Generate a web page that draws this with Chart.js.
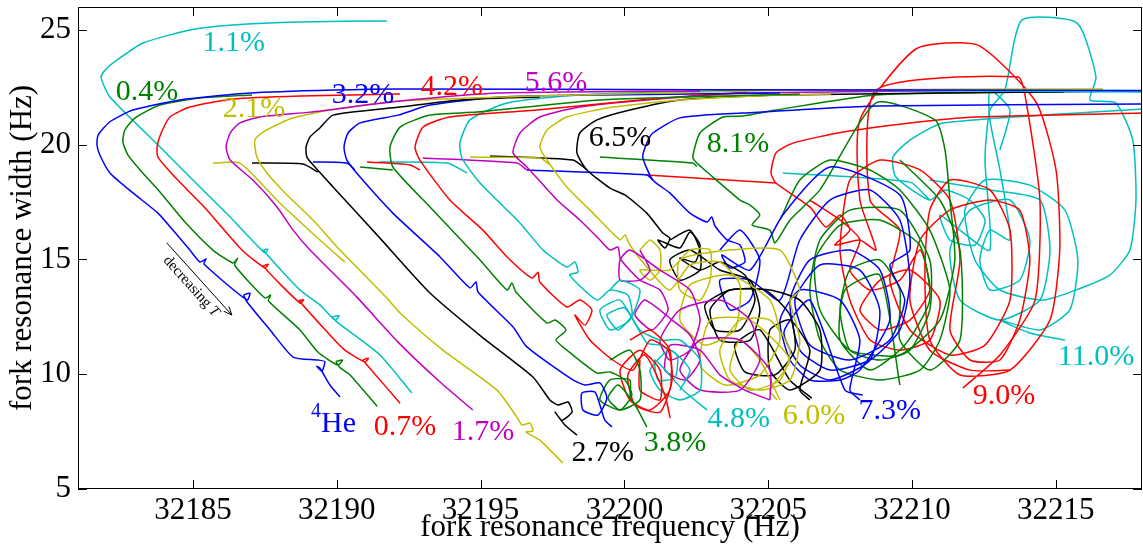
<!DOCTYPE html>
<html lang="en">
<head>
<meta charset="UTF-8">
<title>Fork resonance width vs frequency</title>
<script src="https://cdn.jsdelivr.net/npm/chart.js@4.4.0/dist/chart.umd.min.js"></script>
<style>
  html, body { margin: 0; padding: 0; background: #fff; }
  .chart-box { position: relative; width: 1143px; height: 555px; }
</style>
</head>
<body>
<div class="chart-box"><canvas id="forkChart"></canvas></div>
<script>
// axis ticks
const xTicks = [32185, 32190, 32195, 32200, 32205, 32210, 32215];
const yTicks = [5, 10, 15, 20, 25];

// [frequency (Hz), width (Hz)] traces
const he4 = [[32218.0,22.36],[32202.63,22.40],[32192.20,22.43],[32189.87,22.38],[32186.98,22.25],[32184.55,21.95],[32182.91,21.51],[32182.11,21.0],[32181.70,20.42],[32181.66,20.0],[32181.76,19.55],[32182.11,18.77],[32182.91,17.90],[32183.78,17.02],[32184.30,16.28],[32184.89,15.41],[32185.24,14.89],[32185.45,15.02],[32185.38,14.80],[32186.88,13.23],[32186.98,13.53],[32186.77,13.45],[32186.88,13.15],[32187.68,11.93],[32188.48,10.75],[32189.34,10.62],[32189.58,10.55],[32189.48,10.13],[32189.30,10.35],[32189.41,10.27],[32189.76,9.53],[32190.11,9.01]];
const c04 = [[32187.05,22.17],[32185.24,22.03],[32183.85,21.73],[32182.98,21.16],[32182.63,20.64],[32182.56,20.12],[32182.74,19.55],[32183.16,18.90],[32183.85,17.94],[32184.72,16.63],[32185.69,15.41],[32186.39,14.85],[32186.55,15.05],[32186.45,14.75],[32187.50,13.32],[32187.70,13.45],[32187.62,13.20],[32188.72,11.93],[32189.34,10.97],[32190.04,10.40],[32190.20,10.62],[32189.98,10.55],[32190.10,10.30],[32190.46,9.97],[32191.40,8.61]];
const c07 = [[32192.20,22.21],[32188.72,22.12],[32186.39,21.99],[32184.89,21.64],[32184.20,21.21],[32183.89,20.51],[32183.75,19.90],[32183.78,19.46],[32184.37,18.59],[32185.42,17.24],[32186.70,15.41],[32187.50,14.63],[32187.62,14.80],[32187.45,14.70],[32188.72,13.10],[32188.85,13.25],[32188.70,13.20],[32189.76,11.71],[32190.28,11.05],[32190.98,10.53],[32191.10,10.70],[32190.92,10.62],[32191.05,10.40],[32192.20,8.74]];
const c11 = [[32191.74,25.39],[32188.72,25.35],[32186.39,25.22],[32184.89,25.0],[32183.26,24.43],[32182.46,23.78],[32182.01,23.34],[32181.80,22.95],[32182.11,22.08],[32183.75,20.03],[32184.89,18.59],[32186.29,16.85],[32187.50,15.28],[32187.60,15.45],[32187.45,15.40],[32188.72,13.67],[32189.41,13.02],[32189.94,12.36],[32190.08,12.55],[32189.86,12.50],[32190.0,12.28],[32191.50,10.84],[32192.61,9.18]];
const c17 = [[32202.63,22.34],[32195.67,22.25],[32192.20,21.90],[32189.07,21.42],[32187.33,21.21],[32186.63,20.95],[32186.29,20.51],[32186.15,19.90],[32186.29,19.33],[32187.08,18.46],[32187.92,17.29],[32188.48,16.28],[32189.07,15.41],[32190.70,13.36],[32192.13,11.40],[32193.59,9.66],[32194.73,8.44]];
const c21 = [[32216.64,22.43],[32206.10,22.38],[32196.96,22.12],[32192.20,21.90],[32189.76,21.51],[32188.37,21.12],[32187.43,20.55],[32187.15,20.20],[32187.22,19.46],[32187.57,18.77],[32188.20,17.90],[32189.17,16.72],[32190.11,15.41],[32191.74,13.32],[32192.20,12.67],[32193.69,11.05],[32195.57,9.31],[32196.26,8.14],[32196.44,7.79],[32196.72,7.87],[32196.82,7.53],[32196.58,7.48],[32197.06,7.13],[32197.86,6.13]];
const c21b = [[32185.69,19.20],[32186.63,19.20],[32188.02,17.46],[32189.41,15.85],[32190.28,14.89]];
const c27 = [[32197.06,22.08],[32194.28,21.95],[32192.20,21.64],[32189.87,21.29],[32189.41,20.73],[32189.07,20.34],[32188.93,19.90],[32188.96,19.46],[32189.24,19.03],[32189.87,18.16],[32191.50,15.93],[32193.24,13.54],[32195.05,11.62],[32196.82,9.88],[32197.41,8.88],[32197.69,8.66],[32198.04,8.79],[32198.18,8.35],[32197.83,8.00],[32197.59,8.35],[32197.93,7.79],[32198.35,7.35]];
const c27b = [[32187.05,19.20],[32188.82,19.16],[32189.34,18.81]];
const c32 = [[32205.41,22.25],[32199.15,22.17],[32195.67,22.08],[32193.24,21.73],[32192.13,21.29],[32190.81,20.95],[32190.39,20.51],[32190.25,19.90],[32190.35,19.33],[32190.81,18.59],[32191.95,17.02],[32193.59,15.11],[32194.63,13.76],[32194.84,14.02],[32194.91,13.58],[32196.13,12.06],[32196.61,11.19],[32198.21,9.75],[32198.63,9.53],[32199.15,9.62],[32199.39,8.96],[32199.08,8.22],[32198.56,8.44],[32198.52,9.18],[32198.97,9.23],[32199.15,8.66],[32199.32,8.00],[32199.57,7.70]];
const c32b = [[32189.17,19.25],[32190.35,19.20],[32190.63,18.90]];
const c38 = [[32206.10,22.21],[32199.15,21.95],[32194.87,21.42],[32193.24,21.29],[32192.20,20.77],[32191.85,19.90],[32191.95,19.03],[32193.24,17.29],[32194.98,14.98],[32195.92,13.67],[32196.09,13.97],[32196.23,13.58],[32197.31,12.23],[32197.59,12.36],[32197.97,11.93],[32197.62,11.49],[32198.00,11.05],[32199.05,10.05],[32199.50,10.10],[32200.02,9.75],[32200.26,9.09],[32199.85,8.44],[32199.43,8.96],[32199.78,9.53],[32200.37,8.66],[32200.78,7.70]];
const c38b = [[32190.81,19.03],[32191.95,18.90]];
const c38x = [[32199.50,10.62],[32200.19,11.05],[32200.54,10.18],[32200.54,8.88],[32199.85,8.44],[32199.15,8.88],[32199.50,9.75],[32200.19,9.75],[32200.19,8.88]];
const c42 = [[32204.26,22.30],[32200.54,21.95],[32196.96,21.51],[32193.93,21.21],[32193.00,20.77],[32192.72,19.90],[32192.89,19.33],[32193.93,17.59],[32195.08,16.28],[32195.92,15.11],[32196.79,14.19],[32197.00,14.45],[32197.06,14.02],[32198.00,12.93],[32198.45,13.23],[32198.87,12.80],[32198.63,12.14],[32198.28,12.58],[32198.80,11.49],[32199.60,10.62],[32200.30,10.18],[32200.89,11.49],[32201.52,11.05],[32201.66,9.75],[32201.24,8.35],[32200.37,8.66],[32200.12,9.97],[32200.71,10.84],[32201.41,9.09],[32201.59,8.09]];
const c42b = [[32191.05,19.25],[32192.54,19.12],[32192.89,18.90]];
const c42x = [[32200.19,11.49],[32200.89,11.93],[32201.58,11.05],[32201.58,9.31],[32200.89,8.44],[32200.19,8.88],[32199.85,10.18],[32200.54,11.05],[32201.24,10.18],[32201.24,8.88],[32200.54,9.31],[32200.54,10.62]];
const c48 = [[32218.0,22.30],[32205.41,22.38],[32198.45,22.17],[32195.92,21.82],[32194.63,21.08],[32194.28,20.07],[32194.35,19.42],[32194.98,18.33],[32196.37,16.59],[32197.17,15.41],[32198.0,14.67],[32198.28,14.89],[32198.38,14.45],[32198.10,14.32],[32199.05,13.23],[32199.50,13.67],[32200.12,13.45],[32200.26,12.58],[32199.78,11.93],[32199.39,12.58],[32200.02,12.88],[32200.78,11.36],[32201.24,11.27],[32201.83,10.84],[32201.76,9.84],[32201.17,9.75],[32201.07,10.62],[32202.04,9.31],[32202.87,8.44]];
const c48b = [[32191.50,19.25],[32193.83,19.20],[32194.53,18.77]];
const c48x = [[32199.50,13.67],[32199.85,14.10],[32200.54,13.67],[32200.19,12.36],[32199.50,11.93],[32199.15,12.80],[32199.85,13.23],[32200.54,11.93],[32201.24,11.49],[32201.93,11.49],[32202.63,10.62],[32202.63,9.31],[32201.93,8.88],[32201.24,9.31],[32200.89,10.18],[32201.58,11.05],[32202.28,10.18],[32201.93,9.31]];
const c56 = [[32213.41,22.38],[32204.26,22.25],[32200.78,21.95],[32198.45,21.64],[32197.06,21.21],[32196.37,20.51],[32196.13,19.64],[32196.61,19.03],[32197.66,17.59],[32198.45,16.72],[32199.15,15.85],[32199.50,15.41],[32199.78,15.54],[32199.85,15.06],[32200.09,14.67],[32200.54,14.10],[32201.24,13.67],[32201.52,12.80],[32200.96,11.93],[32200.37,12.58],[32200.71,13.23],[32201.66,12.36],[32202.28,11.71],[32202.63,10.62],[32202.11,9.75],[32201.41,10.18],[32201.59,11.27],[32202.63,11.05],[32203.32,9.97],[32204.19,9.31],[32205.06,8.88]];
const c56b = [[32192.99,19.42],[32196.26,19.20],[32196.61,18.90]];
const c56x = [[32200.54,15.41],[32200.89,14.54],[32200.54,14.10],[32199.85,14.10],[32199.85,14.98],[32200.19,15.41],[32201.24,14.54],[32202.28,13.67],[32202.63,12.36],[32202.28,11.05],[32201.58,10.62],[32201.24,11.49],[32201.93,12.80],[32203.32,13.23],[32204.37,12.36],[32204.71,10.62],[32204.02,9.31],[32202.63,9.31],[32201.93,10.18],[32202.63,11.49],[32204.02,11.49],[32205.06,10.18],[32205.06,8.88]];
const c60 = [[32207.19,22.21],[32205.41,22.17],[32201.93,21.95],[32199.60,21.64],[32198.0,21.21],[32197.31,20.64],[32197.06,19.90],[32197.31,19.33],[32198.0,18.16],[32198.91,17.02],[32199.85,15.85],[32200.02,16.07],[32200.19,15.63],[32200.78,14.67],[32201.58,13.67],[32202.28,14.76],[32203.32,14.89],[32204.02,13.89],[32203.84,11.93],[32202.80,11.27],[32201.93,12.36],[32202.28,13.89],[32203.67,14.32],[32205.06,13.23],[32205.41,11.49],[32204.71,9.97],[32203.50,9.53],[32202.63,10.40],[32202.98,12.36],[32204.37,12.36],[32205.75,10.62],[32205.06,9.31],[32205.31,8.88]];
const c60b = [[32194.63,19.46],[32197.06,19.42],[32197.41,19.12]];
const c60x = [[32200.54,15.41],[32200.89,15.85],[32201.24,15.41],[32201.24,14.54],[32200.89,14.10],[32200.54,14.54],[32201.58,14.54],[32202.28,15.41],[32202.98,15.41],[32202.98,14.10],[32202.63,13.23],[32201.93,13.67],[32201.93,14.98],[32203.67,15.41],[32205.41,15.41],[32206.10,13.67],[32205.76,13.23],[32206.10,11.49],[32205.76,9.75],[32204.71,9.31],[32203.67,9.75],[32203.32,11.05],[32204.02,12.36],[32205.06,12.36],[32205.76,11.05],[32205.41,9.75],[32204.37,9.31],[32203.67,10.18],[32204.02,11.49],[32204.71,10.62],[32205.41,8.88]];
const c65 = [[32218.0,22.34],[32205.41,22.17],[32201.93,21.95],[32200.19,21.51],[32199.05,21.08],[32198.45,20.51],[32198.35,19.64],[32198.70,18.90],[32199.50,18.11],[32200.02,17.81],[32200.78,17.02],[32201.34,16.15],[32201.58,15.93],[32201.41,15.50],[32201.17,15.85],[32201.93,15.50],[32202.28,16.20],[32202.63,15.63],[32202.46,14.89],[32201.93,15.06],[32202.63,14.54],[32203.32,14.89],[32204.19,14.32],[32204.54,13.23],[32204.02,11.93],[32203.15,11.93],[32202.80,13.02],[32203.67,13.67],[32204.89,13.67],[32205.76,12.58],[32205.93,11.05],[32205.24,9.97],[32204.19,10.10],[32203.84,11.27],[32204.71,11.93],[32205.75,9.75],[32206.52,8.96]];
const c65b = [[32195.33,19.51],[32198.21,19.33],[32198.70,18.90]];
const c65x = [[32201.58,15.85],[32202.28,16.28],[32202.63,15.41],[32202.63,14.54],[32201.93,14.10],[32201.58,14.98],[32202.28,15.41],[32203.32,14.54],[32204.37,14.10],[32204.71,12.80],[32204.37,11.49],[32203.32,11.49],[32202.98,12.80],[32203.67,13.67],[32205.06,13.67],[32206.10,13.23],[32206.80,11.93],[32206.80,10.18],[32205.76,9.31],[32205.06,10.18],[32205.06,11.93],[32205.76,12.36],[32206.45,11.05],[32206.10,9.31],[32206.45,8.88]];
const c73 = [[32218.0,21.77],[32208.75,21.69],[32204.12,21.38],[32201.93,21.17],[32200.99,20.51],[32200.78,20.07],[32200.64,19.46],[32200.99,18.46],[32201.58,17.90],[32202.28,17.02],[32202.87,16.63],[32203.04,16.85],[32203.15,16.46],[32203.57,15.85],[32204.02,15.63],[32204.19,14.89],[32203.67,14.63],[32203.39,15.19],[32204.37,14.54],[32205.51,16.94],[32207.15,19.03],[32209.58,17.81],[32209.93,15.41],[32209.23,14.76],[32209.75,13.23],[32209.23,11.49],[32207.84,10.62],[32206.45,11.27],[32205.93,13.23],[32206.80,14.76],[32208.19,14.54],[32208.88,12.80],[32208.54,10.62],[32207.15,9.75],[32206.10,10.40],[32205.55,11.84],[32206.45,13.23],[32207.67,9.31],[32208.29,9.09]];
const c73b = [[32196.61,18.90],[32200.78,18.68],[32200.99,18.46]];
const c73x = [[32203.32,15.41],[32204.02,16.28],[32204.71,14.98],[32204.37,13.23],[32203.67,12.80],[32203.32,14.10],[32204.37,14.10],[32205.41,13.23],[32206.10,15.85],[32207.15,17.59],[32208.54,18.03],[32209.58,16.72],[32209.93,14.10],[32209.58,11.93],[32208.54,10.62],[32207.15,10.18],[32206.10,11.05],[32205.76,13.23],[32206.45,14.98],[32207.84,15.41],[32208.89,14.54],[32209.23,12.36],[32208.19,10.18],[32207.50,9.75],[32206.45,9.75],[32205.76,10.62],[32205.41,12.36],[32206.10,13.67],[32207.50,13.23],[32208.19,11.49],[32207.84,9.31],[32208.19,8.88]];
const c81 = [[32215.28,22.30],[32208.75,22.17],[32205.27,21.51],[32204.12,21.25],[32203.43,21.21],[32202.63,20.51],[32202.38,19.46],[32202.52,19.20],[32203.08,18.59],[32204.02,17.59],[32204.37,17.37],[32204.71,16.94],[32204.44,16.50],[32205.06,16.28],[32205.24,15.72],[32205.76,16.72],[32206.80,18.03],[32208.75,21.82],[32210.80,21.08],[32211.15,19.77],[32211.32,17.59],[32211.49,14.98],[32210.97,12.36],[32209.58,10.84],[32207.84,11.05],[32206.80,12.80],[32206.63,14.98],[32207.50,16.50],[32208.88,16.72],[32210.27,15.63],[32210.62,13.23],[32209.75,11.27],[32208.54,10.18],[32207.50,11.49],[32207.67,13.67],[32208.88,14.32],[32209.58,9.53]];
const c81b = [[32199.15,19.46],[32202.38,19.20],[32202.52,19.05]];
const c81x = [[32205.41,16.72],[32206.10,18.46],[32207.15,19.33],[32208.54,18.90],[32209.58,18.03],[32210.62,16.28],[32211.32,13.67],[32210.97,11.49],[32210.28,10.18],[32208.89,9.75],[32207.50,10.18],[32206.80,11.49],[32206.45,13.67],[32206.80,15.85],[32207.84,17.15],[32209.58,17.15],[32210.62,14.98],[32210.62,12.80],[32209.93,11.05],[32208.89,10.62],[32207.84,11.05],[32207.50,12.80],[32207.84,14.54],[32208.89,14.98],[32209.58,13.67],[32209.58,11.49],[32210.62,10.18],[32211.67,11.49],[32211.67,15.41],[32210.97,17.59],[32209.58,19.33]];
const c90 = [[32218.0,21.38],[32212.22,21.21],[32209.93,20.95],[32207.60,20.55],[32205.86,20.07],[32205.27,19.64],[32205.10,18.77],[32205.27,18.33],[32206.45,17.29],[32207.01,16.41],[32207.50,16.94],[32207.84,16.28],[32207.32,15.63],[32208.19,15.85],[32208.75,15.41],[32208.19,17.59],[32208.19,21.08],[32210.14,24.17],[32212.29,24.34],[32214.31,21.86],[32215.01,18.90],[32215.14,15.41],[32214.80,12.36],[32213.41,10.18],[32211.67,9.97],[32210.62,11.49],[32210.45,14.54],[32210.62,17.15],[32211.32,18.46],[32212.71,18.03],[32213.41,16.28],[32213.41,13.23],[32212.54,11.27],[32211.32,10.84],[32209.93,11.93],[32209.23,14.10],[32209.58,16.28],[32208.54,17.59],[32208.75,22.38],[32213.69,22.95],[32213.96,21.95],[32214.45,17.59],[32214.28,13.23],[32213.06,10.84],[32211.77,9.40]];
const c90b = [[32200.78,18.68],[32205.27,18.33]];
const c90x = [[32206.45,17.59],[32207.50,16.72],[32208.19,15.85],[32207.84,14.54],[32208.54,13.67],[32209.58,14.10],[32210.28,15.41],[32210.62,13.67],[32209.93,12.36],[32208.89,11.93],[32208.19,12.80],[32208.89,14.10],[32209.93,14.54],[32210.97,13.23],[32210.62,11.49],[32209.58,11.05],[32208.54,11.49],[32207.84,13.23],[32207.50,15.41],[32207.84,18.46],[32208.89,19.33],[32210.28,18.90],[32211.32,17.59],[32211.67,14.98],[32211.32,11.93],[32212.02,10.62],[32213.06,10.62],[32213.75,12.36],[32214.10,14.98],[32213.75,17.15],[32212.71,17.59],[32211.32,17.15],[32210.28,15.85],[32209.93,13.23],[32210.62,11.05],[32212.02,10.18],[32213.41,10.18]];
const c110 = [[32218.0,21.56],[32211.08,20.95],[32209.93,20.20],[32209.34,19.46],[32209.44,18.59],[32210.62,17.59],[32211.15,18.03],[32212.01,17.59],[32212.54,16.72],[32212.19,15.63],[32211.32,15.85],[32210.97,16.94],[32211.67,16.28],[32212.71,15.41],[32212.54,19.33],[32212.71,21.51],[32213.23,22.38],[32213.82,25.43],[32215.74,25.30],[32216.40,22.95],[32216.19,21.95],[32217.09,21.82],[32217.68,20.20],[32217.79,17.59],[32217.58,15.41],[32216.88,14.32],[32215.70,13.67],[32214.55,13.23],[32213.06,13.67],[32212.19,14.98],[32211.84,17.15],[32212.54,18.46],[32214.10,18.24],[32215.32,17.15],[32215.77,14.98],[32215.49,12.80],[32214.45,11.93],[32213.06,12.36],[32214.10,11.80],[32215.32,11.49]];
const c110b = [[32205.51,18.77],[32209.93,18.37],[32210.62,17.59]];
const c110x = [[32210.62,18.46],[32212.71,18.03],[32214.45,17.59],[32214.80,15.41],[32214.45,13.23],[32213.06,12.36],[32211.67,13.23],[32211.32,15.41],[32212.02,17.15],[32213.41,17.59],[32214.10,15.85],[32213.75,14.10],[32212.71,13.67],[32212.36,14.98],[32212.71,16.28],[32213.41,15.85],[32213.06,18.90],[32212.71,21.08],[32212.71,22.38],[32213.41,21.51],[32213.06,19.77]];

const seriesPaths = [[he4], [c04], [c07], [c11], [c17], [c21, c21b], [c27, c27b], [c32, c32b], [c38, c38b, c38x],
  [c42, c42b, c42x], [c48, c48b, c48x], [c56, c56b, c56x], [c60, c60b, c60x], [c65, c65b, c65x], [c73, c73b, c73x],
  [c81, c81b, c81x], [c90, c90b, c90x], [c110, c110b, c110x]];

// concentration labels and where they sit (data coords)
const labelText = ['He', '0.4%', '0.7%', '1.1%', '1.7%', '2.1%', '2.7%', '3.2%', '3.8%', '4.2%', '4.8%', '5.6%', '6.0%', '6.5%', '7.3%', '8.1%', '9.0%', '11.0%'];
const labelX = [32190.06, 32183.40, 32192.37, 32186.42, 32195.08, 32187.12, 32199.25, 32190.91, 32201.76, 32194.0, 32203.98, 32197.62, 32206.59, 32199.85, 32209.23, 32203.95, 32213.2, 32216.4];
const labelY = [7.83, 22.30, 7.70, 24.43, 7.48, 21.56, 6.57, 22.17, 7.0, 22.51, 8.05, 22.69, 8.18, 20.29, 8.40, 20.03, 9.05, 10.75];
// "decreasing T" arrow: start, end
const arrowX = [32184.09, 32186.35];
const arrowY = [15.72, 12.58];

const palette = ['#0000ff', '#008000', '#ff0000', '#00bfbf', '#bf00bf', '#bfbf00', '#000000'];
const serif = '"Liberation Serif", "Times New Roman", serif';

const datasets = [];
seriesPaths.forEach((paths, i) => {
  paths.forEach(p => {
    datasets.push({
      data: p.map(([x, y]) => ({ x, y })),
      borderColor: palette[i % palette.length],
      borderWidth: 1.5,
      pointRadius: 0,
      showLine: true,
      fill: false,
      tension: 0.2
    });
  });
});

const frameAndNotes = {
  id: 'frameAndNotes',
  afterDatasetsDraw(chart) {
    const { ctx, chartArea: a, scales: { x, y } } = chart;
    ctx.save();
    ctx.strokeStyle = '#000';
    ctx.lineWidth = 1;
    ctx.strokeRect(a.left + 0.5, a.top + 0.5, a.right - a.left - 1, a.bottom - a.top - 1);

    // inward ticks on all four sides
    const tl = 9;
    ctx.beginPath();
    xTicks.forEach(v => {
      const px = Math.round(x.getPixelForValue(v)) + 0.5;
      ctx.moveTo(px, a.bottom); ctx.lineTo(px, a.bottom - tl);
      ctx.moveTo(px, a.top); ctx.lineTo(px, a.top + tl);
    });
    yTicks.forEach(v => {
      const py = Math.round(y.getPixelForValue(v)) + 0.5;
      ctx.moveTo(a.left, py); ctx.lineTo(a.left + tl, py);
      ctx.moveTo(a.right, py); ctx.lineTo(a.right - tl, py);
    });
    ctx.stroke();

    // curve labels
    ctx.textAlign = 'center';
    ctx.textBaseline = 'middle';
    labelText.forEach((t, i) => {
      const px = x.getPixelForValue(labelX[i]);
      const py = y.getPixelForValue(labelY[i]);
      ctx.fillStyle = palette[i % palette.length];
      ctx.font = '30px ' + serif;
      ctx.fillText(t, px, py);
      if (i === 0) {
        const w = ctx.measureText(t).width;
        ctx.font = '20px ' + serif;
        ctx.textAlign = 'right';
        ctx.fillText('4', px - w / 2, py - 12);
        ctx.textAlign = 'center';
      }
    });

    // decreasing T arrow
    const x0 = x.getPixelForValue(arrowX[0]), y0 = y.getPixelForValue(arrowY[0]);
    const x1 = x.getPixelForValue(arrowX[1]), y1 = y.getPixelForValue(arrowY[1]);
    const ang = Math.atan2(y1 - y0, x1 - x0);
    ctx.strokeStyle = '#000';
    ctx.lineWidth = 1;
    ctx.beginPath();
    ctx.moveTo(x0, y0); ctx.lineTo(x1, y1);
    ctx.moveTo(x1 - 9 * Math.cos(ang - 0.4), y1 - 9 * Math.sin(ang - 0.4));
    ctx.lineTo(x1, y1);
    ctx.lineTo(x1 - 9 * Math.cos(ang + 0.4), y1 - 9 * Math.sin(ang + 0.4));
    ctx.stroke();

    const mx = (x0 + x1) / 2 - 11 * Math.sin(ang);
    const my = (y0 + y1) / 2 + 11 * Math.cos(ang);
    ctx.translate(mx, my);
    ctx.rotate(ang);
    ctx.fillStyle = '#000';
    ctx.font = '15px ' + serif;
    const w1 = ctx.measureText('decreasing ').width;
    ctx.font = 'italic 15px ' + serif;
    const w2 = ctx.measureText('T').width;
    ctx.textAlign = 'left';
    ctx.font = '15px ' + serif;
    ctx.fillText('decreasing ', -(w1 + w2) / 2, 0);
    ctx.font = 'italic 15px ' + serif;
    ctx.fillText('T', -(w1 + w2) / 2 + w1, 0);
    ctx.restore();
  }
};

new Chart(document.getElementById('forkChart'), {
  type: 'scatter',
  data: { datasets },
  options: {
    responsive: true,
    maintainAspectRatio: false,
    animation: false,
    layout: { padding: { top: 7, right: 1, left: 0, bottom: 0 } },
    plugins: { legend: { display: false }, tooltip: { enabled: false } },
    scales: {
      x: {
        type: 'linear',
        min: 32181,
        max: 32218,
        afterBuildTicks: s => { s.ticks = xTicks.map(v => ({ value: v })); },
        afterFit: s => { s.height = 66; s.paddingLeft = 0; s.paddingRight = 0; },
        grid: { display: false, drawTicks: false },
        border: { display: false },
        ticks: { color: '#000', font: { family: serif, size: 31 }, padding: 3, maxRotation: 0, autoSkip: false, callback: v => String(v) },
        title: { display: true, text: 'fork resonance frequency (Hz)', color: '#000', font: { family: serif, size: 31 }, padding: { top: 0, bottom: 9 } }
      },
      y: {
        type: 'linear',
        min: 5,
        max: 26,
        afterBuildTicks: s => { s.ticks = yTicks.map(v => ({ value: v })); },
        afterFit: s => { s.width = 78; s.paddingTop = 0; s.paddingBottom = 0; },
        grid: { display: false, drawTicks: false },
        border: { display: false },
        ticks: { color: '#000', font: { family: serif, size: 31 }, padding: 7, callback: v => String(v) },
        title: { display: true, text: 'fork resonance width (Hz)', color: '#000', font: { family: serif, size: 31 }, padding: { top: 4, bottom: 0 } }
      }
    }
  },
  plugins: [frameAndNotes]
});
</script>
</body>
</html>
